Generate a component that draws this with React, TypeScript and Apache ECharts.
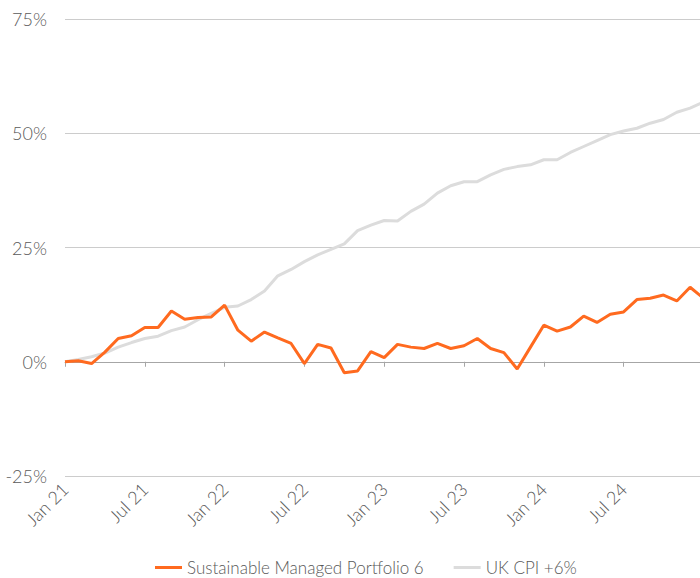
import React, { useEffect, useRef } from "react";
import * as echarts from "echarts";

const monthNames = ["Jan", "Feb", "Mar", "Apr", "May", "Jun", "Jul", "Aug", "Sep", "Oct", "Nov", "Dec"];
const years = ["21", "22", "23", "24", "25"];
const categories: string[] = [];
for (const y of years) {
  for (const m of monthNames) {
    if (categories.length < 49) categories.push(`${m} ${y}`);
  }
}
const tickLabels = ["Jan 21", "Jul 21", "Jan 22", "Jul 22", "Jan 23", "Jul 23", "Jan 24", "Jul 24"];

const portfolioName = "Sustainable Managed Portfolio 6";
const cpiName = "UK CPI +6%";

const portfolio = [
  0, 0.2, -0.4, 2.1, 5.1, 5.7, 7.5, 7.5, 11.1, 9.3, 9.7, 9.8,
  12.4, 6.9, 4.5, 6.5, 5.2, 4.0, -0.4, 3.8, 3.0, -2.4, -2.0, 2.2,
  0.9, 3.8, 3.2, 2.9, 4.0, 2.9, 3.5, 5.1, 2.9, 2.0, -1.6, 3.2,
  8.0, 6.7, 7.6, 10.0, 8.6, 10.4, 10.9, 13.6, 13.9, 14.6, 13.3, 16.3,
  13.9,
];

const cpi = [
  0, 0.5, 1.1, 1.9, 3.2, 4.2, 5.1, 5.6, 6.8, 7.6, 9.2, 10.6,
  11.9, 12.2, 13.6, 15.5, 18.8, 20.2, 21.9, 23.4, 24.6, 25.8, 28.7, 29.9,
  30.9, 30.8, 32.9, 34.5, 36.9, 38.5, 39.4, 39.4, 40.9, 42.1, 42.7, 43.1,
  44.2, 44.2, 45.8, 47.1, 48.4, 49.7, 50.5, 51.1, 52.2, 53.0, 54.6, 55.5,
  56.8,
];

const yTicks = { min: -25, max: 75, interval: 25 };

const FONT = "Lato, 'Noto Sans', sans-serif";
const TEXT = "#595959";

export default function App() {
  const ref = useRef<HTMLDivElement>(null);
  useEffect(() => {
    document.body.style.margin = "0";
    if (!ref.current) return;
    const chart = echarts.init(ref.current, undefined, { renderer: "svg" });
    const showTick = (_i: number, v: string) => tickLabels.indexOf(v) >= 0;
    chart.setOption({
      animation: false,
      textStyle: { fontFamily: FONT },
      grid: {
        left: 65,
        top: 19,
        width: 638.4,
        bottom: 102,
        containLabel: false,
        outerBoundsMode: "none",
      },
      legend: {
        top: 554,
        left: 150,
        icon: "rect",
        itemWidth: 27,
        itemHeight: 3,
        itemGap: 30,
        data: [portfolioName, cpiName],
        textStyle: { fontFamily: FONT, fontSize: 17, fontWeight: 300, color: TEXT },
      },
      xAxis: [
        {
          type: "category",
          data: categories,
          boundaryGap: false,
          position: "bottom",
          axisLine: { show: false, onZero: false },
          axisTick: { show: false },
          splitLine: { show: false },
          axisLabel: {
            interval: showTick,
            rotate: 45,
            fontFamily: FONT,
            fontSize: 18,
            fontWeight: 300,
            color: TEXT,
            margin: 10,
          },
        },
        {
          type: "category",
          data: categories,
          boundaryGap: false,
          position: "top",
          axisLine: { show: true, onZero: true, lineStyle: { color: "#a6a6a6", width: 1 } },
          axisTick: { show: true, inside: true, interval: showTick, length: 5, lineStyle: { color: "#a6a6a6" } },
          axisLabel: { show: false },
          splitLine: { show: false },
        },
      ],
      yAxis: {
        type: "value",
        min: yTicks.min,
        max: yTicks.max,
        interval: yTicks.interval,
        axisLine: { show: false },
        axisTick: { show: false },
        splitLine: { lineStyle: { color: "#cccccc", width: 1 } },
        axisLabel: {
          formatter: "{value}%",
          fontFamily: FONT,
          fontSize: 18,
          fontWeight: 300,
          color: TEXT,
          margin: 18,
        },
      },
      series: [
        {
          name: cpiName,
          type: "line",
          data: cpi,
          xAxisIndex: 0,
          symbol: "none",
          lineStyle: { color: "#dcdcdc", width: 3 },
          itemStyle: { color: "#dcdcdc" },
          z: 2,
        },
        {
          name: portfolioName,
          type: "line",
          data: portfolio,
          xAxisIndex: 0,
          symbol: "none",
          lineStyle: { color: "#ff6a1f", width: 3 },
          itemStyle: { color: "#ff6a1f" },
          z: 3,
        },
      ],
    });
    return () => chart.dispose();
  }, []);
  return <div ref={ref} style={{ width: 700, height: 578 }} />;
}
